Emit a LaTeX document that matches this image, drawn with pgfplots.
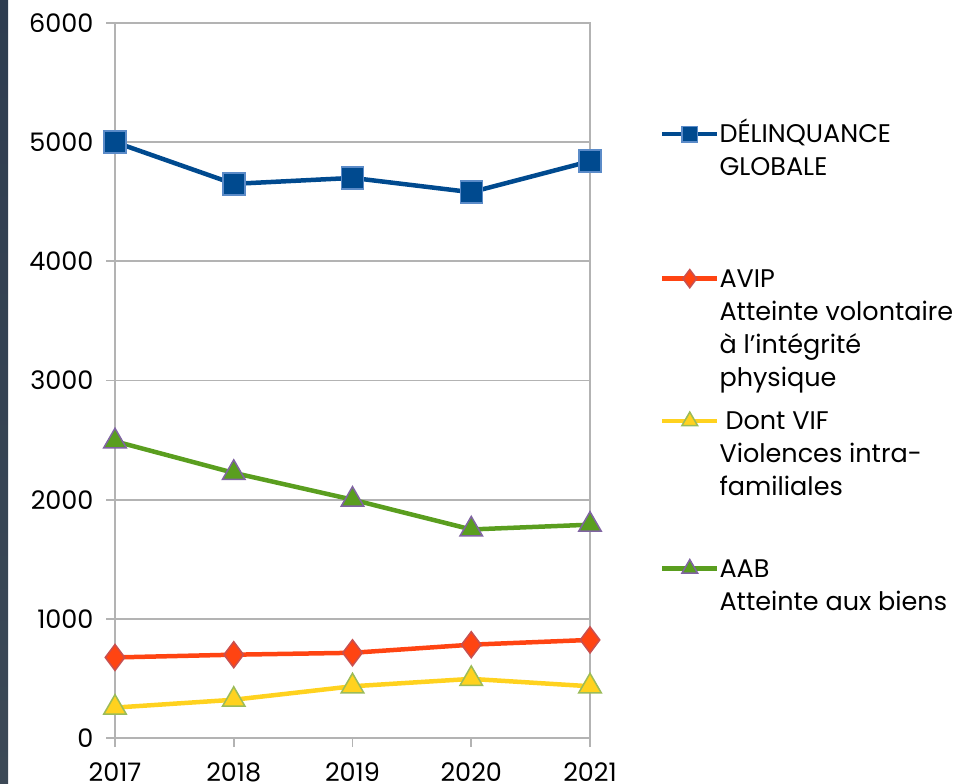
\documentclass[border=0pt]{standalone}
\usepackage{pgfplots}
\pgfplotsset{compat=1.18}
\usepackage{fontspec}
\setmainfont{Poppins}
\definecolor{gridgray}{HTML}{B3B3B3}
\definecolor{dgline}{HTML}{004A8F}
\definecolor{dgborder}{HTML}{5B8BC8}
\definecolor{avipline}{HTML}{FF4412}
\definecolor{aviborder}{HTML}{C85050}
\definecolor{vifline}{HTML}{FFD21F}
\definecolor{vifborder}{HTML}{9BBB59}
\definecolor{aabline}{HTML}{5A9E1F}
\definecolor{aabborder}{HTML}{8064A2}
\definecolor{stripA}{HTML}{2E3D50}
\definecolor{stripB}{HTML}{1E2938}
\definecolor{stripC}{HTML}{3C4956}
\newcommand{\lfont}{\fontsize{25.5}{33}\selectfont}
\newcommand{\entry}[2]{\rule{0pt}{#1}\parbox[t]{260pt}{\lfont #2}}
\begin{document}
\begin{tikzpicture}[font=\lfont]
\useasboundingbox (0,0) rectangle (969pt,784pt);
\shade[top color=stripA, middle color=stripB, bottom color=stripC] (0,0) rectangle (8pt,784pt);
\begin{axis}[
  at={(115pt,46pt)}, anchor=south west,
  scale only axis, width=475pt, height=715pt,
  xmin=2017, xmax=2021, ymin=0, ymax=6000,
  xtick={2017,2018,2019,2020,2021},
  ytick={0,1000,2000,3000,4000,5000,6000},
  /pgf/number format/assume math mode=true,
  /pgf/number format/1000 sep={},
  tick label style={font=\lfont},
  yticklabel style={xshift=-9pt},
  xticklabel style={yshift=-12pt},
  ymajorgrids,
  grid style={gridgray, line width=1.8pt},
  axis line style={gridgray, line width=1.8pt},
  tick style={gridgray, line width=1.8pt},
  tick align=outside, tick pos=left, major tick length=9pt,
  clip=false,
  legend cell align=left,
  legend style={at={(1.147,0.866)}, anchor=north west, draw=none, fill=none,
    inner sep=0pt, row sep=0pt, font=\lfont,
    nodes={inner sep=0pt, anchor=base west},
    /tikz/every even column/.append style={column sep=3pt}},
  legend image code/.code={\draw[mark repeat=2,mark phase=2,#1] plot coordinates {(0pt,8.5pt) (27.5pt,8.5pt) (55pt,8.5pt)};},
  legend image post style={/tikz/every mark/.append style={scale=0.7}},
]
\addplot[dgline, line width=4.5pt, mark=square*, mark size=11pt,
  mark options={solid, fill=dgline, draw=dgborder, line width=1.5pt}]
  coordinates {(2017,5000) (2018,4650) (2019,4700) (2020,4580) (2021,4840)};
\addlegendentry{\entry{18pt}{DÉLINQUANCE\\GLOBALE}}
\addplot[avipline, line width=4.5pt, mark=diamond*, mark size=13pt,
  mark options={solid, fill=avipline, draw=aviborder, line width=1.5pt}]
  coordinates {(2017,676) (2018,699) (2019,715) (2020,783) (2021,823)};
\addlegendentry{\entry{143pt}{AVIP\\Atteinte volontaire\\à l’intégrité\\physique}}
\addplot[vifline, line width=4.5pt, mark=triangle*, mark size=13pt,
  mark options={solid, fill=vifline, draw=vifborder, line width=1.5pt}]
  coordinates {(2017,255) (2018,321) (2019,434) (2020,496) (2021,434)};
\addlegendentry{\entry{141pt}{\hspace{6pt}Dont VIF\\Violences intra-\\familiales}}
\addplot[aabline, line width=4.5pt, mark=triangle*, mark size=13pt,
  mark options={solid, fill=aabline, draw=aabborder, line width=1.5pt}]
  coordinates {(2017,2490) (2018,2225) (2019,2000) (2020,1750) (2021,1790)};
\addlegendentry{\entry{146pt}{AAB\\Atteinte aux biens}}
\end{axis}
\end{tikzpicture}
\end{document}
